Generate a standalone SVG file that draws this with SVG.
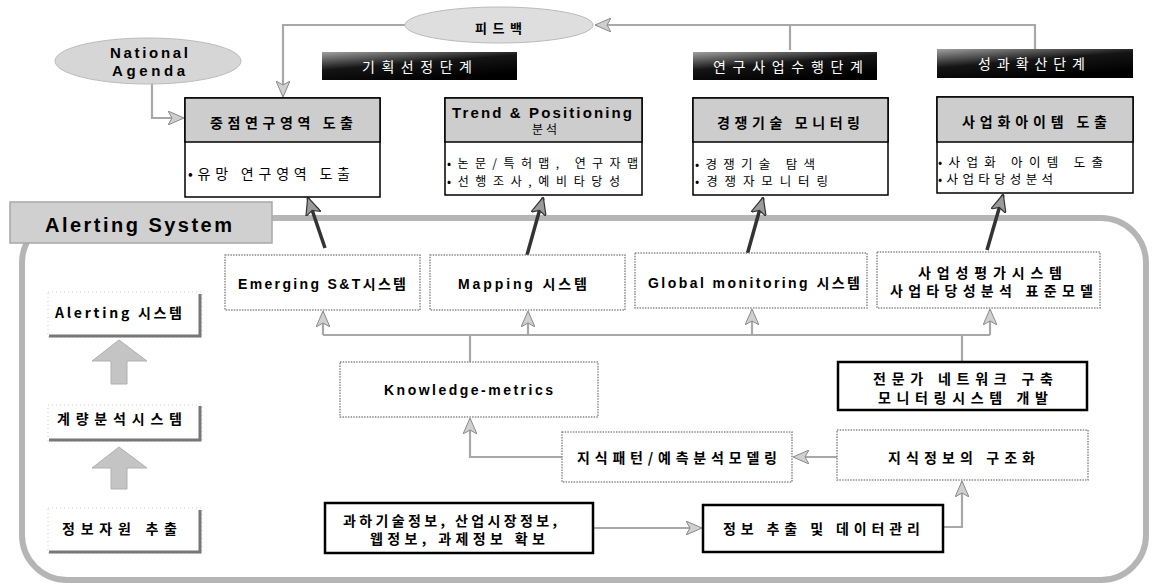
<svg xmlns="http://www.w3.org/2000/svg" width="1152" height="585" viewBox="0 0 1152 585">
<style>
.kb{font-family:"Noto Sans CJK KR","Liberation Sans",sans-serif;font-weight:700;fill:#000}
.lb{font-family:"Liberation Sans","Noto Sans CJK KR",sans-serif;font-weight:700;fill:#000}
.kr{font-family:"Noto Sans CJK KR","Liberation Sans",sans-serif;font-weight:400;fill:#000}
.wt{fill:#fff}
.conn{fill:none;stroke:#a8a8a8;stroke-width:2.2}
.dark{fill:none;stroke:#333;stroke-width:3.5}
.topbox{fill:#fff;stroke:#000;stroke-width:1.5}
.hdr{fill:#cdcdcd;stroke:#000;stroke-width:1.5}
.dotbox{fill:#fff;stroke:#8a8a8a;stroke-width:1.5;stroke-dasharray:1.5 1.2}
.solidbox{fill:#fff;stroke:#000;stroke-width:2.5}
.shadowbox{fill:#fff;stroke:#ccc;stroke-width:1;stroke-dasharray:1 3}
.shadow{fill:none;stroke:#777;stroke-width:3}
.bigarrow{fill:#c4c4c4;stroke:#b0b0b0;stroke-width:1}
</style>
<defs>
<linearGradient id="stage" x1="0" y1="0" x2="0.55" y2="1">
<stop offset="0" stop-color="#a0a0a0"/>
<stop offset="0.5" stop-color="#151515"/>
<stop offset="1" stop-color="#000"/>
</linearGradient>
<marker id="ah" markerUnits="userSpaceOnUse" markerWidth="16" markerHeight="14" viewBox="0 0 16 14" refX="15" refY="7" orient="auto">
<path d="M0,0 L16,7 L0,14 L4,7 Z" fill="#cfcfcf" stroke="#8a8a8a" stroke-width="1"/>
</marker>
<marker id="dh" markerUnits="userSpaceOnUse" markerWidth="18" markerHeight="16" viewBox="0 0 18 16" refX="17" refY="8" orient="auto">
<path d="M0,0 L18,8 L0,16 L4,8 Z" fill="#9a9a9a" stroke="#333" stroke-width="1.2"/>
</marker>
</defs>

<rect id="alert-frame" x="22" y="218" width="1124" height="362" rx="45" ry="45" fill="none" stroke="#b5b5b5" stroke-width="6"/>

<g id="connectors">
<path class="conn" d="M152,83 V118 H183" marker-end="url(#ah)"/>
<path class="conn" d="M1035,50 V25 H596" marker-end="url(#ah)"/>
<path class="conn" d="M790,50 V25"/>
<path class="conn" d="M405,25 H283 V96" marker-end="url(#ah)"/>
<path class="dark" d="M325,248 L308,198" marker-end="url(#dh)"/>
<path class="dark" d="M527,255 L543,198" marker-end="url(#dh)"/>
<path class="dark" d="M747,255 L763,198" marker-end="url(#dh)"/>
<path class="dark" d="M987,250 L1003,195" marker-end="url(#dh)"/>
<path class="conn" d="M323,335 H990"/>
<path class="conn" d="M323,335 V312" marker-end="url(#ah)"/>
<path class="conn" d="M528,335 V312" marker-end="url(#ah)"/>
<path class="conn" d="M752,335 V310" marker-end="url(#ah)"/>
<path class="conn" d="M990,335 V310" marker-end="url(#ah)"/>
<path class="conn" d="M470,362 V335"/>
<path class="conn" d="M962,362 V335"/>
<path class="conn" d="M562,457 H470 V419" marker-end="url(#ah)"/>
<path class="conn" d="M837,457 H794" marker-end="url(#ah)"/>
<path class="conn" d="M593,528 H701" marker-end="url(#ah)"/>
<path class="conn" d="M943,527 H962 V482" marker-end="url(#ah)"/>
<polygon class="bigarrow" points="119,340 147,361 127,361 127,384 111,384 111,361 92,361"/>
<polygon class="bigarrow" points="119,447 147,468 127,468 127,489 111,489 111,468 92,468"/>
</g>

<g id="national-agenda">
<ellipse cx="148" cy="61" rx="93" ry="23" fill="#d6d6d6" stroke="#bbb" stroke-width="1"/>
<text class="lb" x="110" y="52" font-size="15" dominant-baseline="central" textLength="78" lengthAdjust="spacing">National</text>
<text class="lb" x="112" y="70" font-size="15" dominant-baseline="central" textLength="73" lengthAdjust="spacing">Agenda</text>
</g>

<g id="feedback">
<ellipse cx="499" cy="25" rx="94" ry="18" fill="#dedede" stroke="#bbb" stroke-width="1"/>
<text class="kb" x="475" y="27" font-size="13" dominant-baseline="central" textLength="47" lengthAdjust="spacing">피드백</text>
</g>

<g id="stage1">
<rect x="322" y="52" width="195" height="28" fill="url(#stage)"/>
<text class="kr wt" x="362" y="66" font-size="14" dominant-baseline="central" textLength="110" lengthAdjust="spacing">기획선정단계</text>
</g>
<g id="stage2">
<rect x="693" y="52" width="184" height="28" fill="url(#stage)"/>
<text class="kr wt" x="713" y="66" font-size="14" dominant-baseline="central" textLength="150" lengthAdjust="spacing">연구사업수행단계</text>
</g>
<g id="stage3">
<rect x="937" y="49" width="196" height="29" fill="url(#stage)"/>
<text class="kr wt" x="978" y="63" font-size="14" dominant-baseline="central" textLength="107" lengthAdjust="spacing">성과확산단계</text>
</g>

<g id="box1">
<rect class="topbox" x="185" y="98" width="195" height="99"/>
<rect class="hdr" x="185" y="98" width="195" height="44"/>
<text class="kb" x="210" y="122" font-size="14" dominant-baseline="central" textLength="143" lengthAdjust="spacing">중점연구영역 도출</text>
<text class="kr" x="188" y="173" font-size="14" dominant-baseline="central" textLength="162" lengthAdjust="spacing">•유망 연구영역 도출</text>
</g>
<g id="box2">
<rect class="topbox" x="445" y="98" width="197" height="97"/>
<rect class="hdr" x="445" y="98" width="197" height="44"/>
<text class="lb" x="452" y="112" font-size="15" dominant-baseline="central" textLength="180" lengthAdjust="spacing">Trend &amp; Positioning</text>
<text class="kr" x="532" y="128" font-size="12" dominant-baseline="central" textLength="25" lengthAdjust="spacing">분석</text>
<text class="kr" x="447" y="162" font-size="12" dominant-baseline="central" textLength="191" lengthAdjust="spacing">•논문/특허맵, 연구자맵</text>
<text class="kr" x="447" y="180" font-size="12" dominant-baseline="central" textLength="173" lengthAdjust="spacing">•선행조사,예비타당성</text>
</g>
<g id="box3">
<rect class="topbox" x="693" y="98" width="195" height="97"/>
<rect class="hdr" x="693" y="98" width="195" height="44"/>
<text class="kb" x="717" y="122" font-size="14" dominant-baseline="central" textLength="143" lengthAdjust="spacing">경쟁기술 모니터링</text>
<text class="kr" x="695" y="163" font-size="12.5" dominant-baseline="central" textLength="120" lengthAdjust="spacing">•경쟁기술 탐색</text>
<text class="kr" x="695" y="180" font-size="12.5" dominant-baseline="central" textLength="133" lengthAdjust="spacing">•경쟁자모니터링</text>
</g>
<g id="box4">
<rect class="topbox" x="937" y="97" width="196" height="96"/>
<rect class="hdr" x="937" y="97" width="196" height="45"/>
<text class="kb" x="962" y="121" font-size="14" dominant-baseline="central" textLength="145" lengthAdjust="spacing">사업화아이템 도출</text>
<text class="kr" x="938" y="161" font-size="12.5" dominant-baseline="central" textLength="165" lengthAdjust="spacing">•사업화 아이템 도출</text>
<text class="kr" x="938" y="178" font-size="12.5" dominant-baseline="central" textLength="115" lengthAdjust="spacing">•사업타당성분석</text>
</g>

<g id="alerting-banner">
<rect x="10" y="202" width="262" height="41" fill="#d0d0d0" stroke="#a8a8a8" stroke-width="1.5"/>
<text class="lb" x="45" y="225" font-size="20" dominant-baseline="central" textLength="187" lengthAdjust="spacing">Alerting System</text>
</g>

<g id="left-alerting">
<rect class="shadowbox" x="48" y="292" width="154" height="45"/>
<path class="shadow" d="M200,294 V336 H49"/>
<text class="kb" x="55" y="312" font-size="14" dominant-baseline="central" textLength="127" lengthAdjust="spacing">Alerting 시스템</text>
</g>
<g id="left-metric">
<rect class="shadowbox" x="48" y="405" width="154" height="36"/>
<path class="shadow" d="M200,406 V440 H49"/>
<text class="kb" x="57" y="418" font-size="14" dominant-baseline="central" textLength="125" lengthAdjust="spacing">계량분석시스템</text>
</g>
<g id="left-extract">
<rect class="shadowbox" x="48" y="508" width="154" height="45"/>
<path class="shadow" d="M200,510 V552 H49"/>
<text class="kb" x="62" y="528" font-size="14" dominant-baseline="central" textLength="115" lengthAdjust="spacing">정보자원 추출</text>
</g>

<g id="emerging">
<rect class="dotbox" x="225" y="255" width="195" height="55"/>
<text class="lb" x="238" y="284" font-size="14" dominant-baseline="central" textLength="168" lengthAdjust="spacing">Emerging S&amp;T시스템</text>
</g>
<g id="mapping">
<rect class="dotbox" x="430" y="255" width="195" height="55"/>
<text class="lb" x="458" y="284" font-size="14" dominant-baseline="central" textLength="129" lengthAdjust="spacing">Mapping 시스템</text>
</g>
<g id="global">
<rect class="dotbox" x="635" y="253" width="232" height="55"/>
<text class="lb" x="648" y="283" font-size="14" dominant-baseline="central" textLength="212" lengthAdjust="spacing">Global monitoring 시스템</text>
</g>
<g id="business">
<rect class="dotbox" x="877" y="252" width="223" height="56"/>
<text class="kb" x="918" y="272" font-size="14" dominant-baseline="central" textLength="144" lengthAdjust="spacing">사업성평가시스템</text>
<text class="kb" x="890" y="290" font-size="14" dominant-baseline="central" textLength="203" lengthAdjust="spacing">사업타당성분석 표준모델</text>
</g>

<g id="knowledge-metrics">
<rect class="dotbox" x="340" y="362" width="258" height="55"/>
<text class="lb" x="384" y="390" font-size="14" dominant-baseline="central" textLength="169" lengthAdjust="spacing">Knowledge-metrics</text>
</g>
<g id="expert">
<rect class="solidbox" x="838" y="362" width="249" height="48"/>
<text class="kb" x="873" y="378" font-size="14" dominant-baseline="central" textLength="180" lengthAdjust="spacing">전문가 네트워크 구축</text>
<text class="kb" x="878" y="397" font-size="14" dominant-baseline="central" textLength="170" lengthAdjust="spacing">모니터링시스템 개발</text>
</g>
<g id="pattern">
<rect class="dotbox" x="562" y="432" width="230" height="50"/>
<text class="kb" x="577" y="457" font-size="14" dominant-baseline="central" textLength="200" lengthAdjust="spacing">지식패턴/예측분석모델링</text>
</g>
<g id="structure">
<rect class="dotbox" x="837" y="430" width="251" height="50"/>
<text class="kb" x="888" y="457" font-size="14" dominant-baseline="central" textLength="147" lengthAdjust="spacing">지식정보의 구조화</text>
</g>
<g id="sources">
<rect class="solidbox" x="325" y="503" width="268" height="50"/>
<text class="kb" x="343" y="520" font-size="14" dominant-baseline="central" textLength="214" lengthAdjust="spacing">과하기술정보, 산업시장정보,</text>
<text class="kb" x="370" y="538" font-size="14" dominant-baseline="central" textLength="175" lengthAdjust="spacing">웹정보, 과제정보 확보</text>
</g>
<g id="data-mgmt">
<rect class="solidbox" x="703" y="505" width="240" height="47"/>
<text class="kb" x="723" y="528" font-size="14" dominant-baseline="central" textLength="197" lengthAdjust="spacing">정보 추출 및 데이터관리</text>
</g>
</svg>
